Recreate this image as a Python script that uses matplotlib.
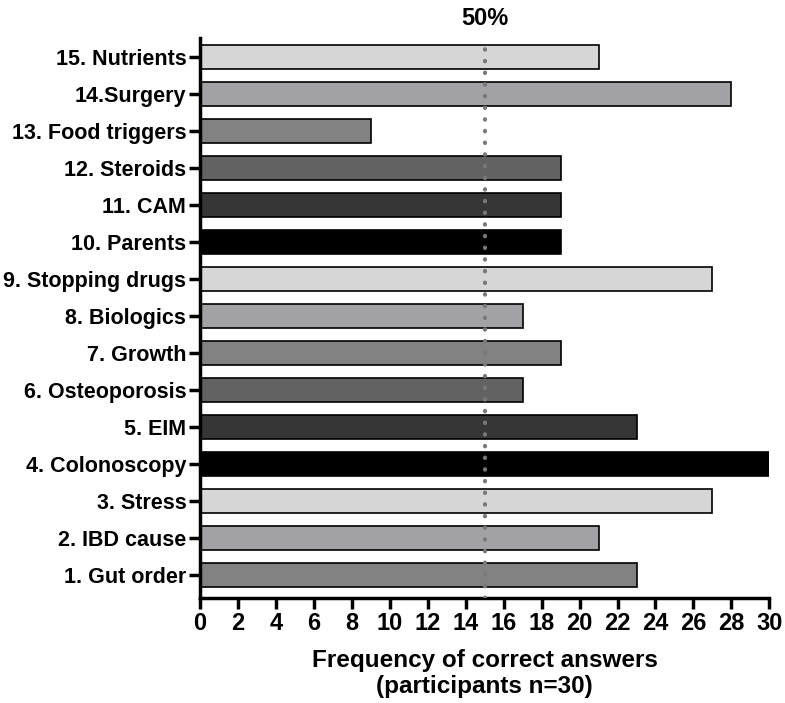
import matplotlib
matplotlib.use("Agg")
import matplotlib.pyplot as plt

# Daten
labels = ["1. Gut order", "2. IBD cause", "3. Stress", "4. Colonoscopy", "5. EIM",
          "6. Osteoporosis", "7. Growth", "8. Biologics", "9. Stopping drugs",
          "10. Parents", "11. CAM", "12. Steroids", "13. Food triggers",
          "14.Surgery", "15. Nutrients"]
values = [23, 21, 27, 30, 23, 17, 19, 17, 27, 19, 19, 19, 9, 28, 21]
colors = ["#828282", "#a2a2a6", "#d6d6d6", "#000000", "#363636", "#626262",
          "#828282", "#a2a2a6", "#d6d6d6", "#000000", "#363636", "#626262",
          "#828282", "#a2a2a6", "#d6d6d6"]
xticks = list(range(0, 31, 2))

plt.rcParams['font.family'] = ['Liberation Sans', 'DejaVu Sans']
plt.rcParams['font.weight'] = 'bold'

fig = plt.figure(figsize=(7.85, 7.03), dpi=100)
ax = fig.add_axes([0.255, 0.149, 0.725, 0.797])

pos = list(range(1, len(labels) + 1))
ax.barh(pos, values, height=0.65, color=colors, edgecolor="black", linewidth=1.2, zorder=2)

# 50%-Linie
ax.axvline(15, color="#787878", linestyle=(0, (0.1, 2.7)), linewidth=3.0,
           dash_capstyle="round", zorder=3)
ax.text(15, 1.015, "50%", transform=ax.get_xaxis_transform(), ha="center", va="bottom",
        fontsize=17, fontweight="bold")

ax.set_xlim(0, 30)
ax.set_ylim(0.38, 15.51)
ax.set_yticks(pos)
ax.set_yticklabels(labels, fontsize=15.5, fontweight="bold")
ax.set_xticks(xticks)
ax.set_xticklabels([str(t) for t in xticks], fontsize=17, fontweight="bold",
                   family=['Liberation Sans Narrow', 'Liberation Sans'])
ax.set_xlabel("Frequency of correct answers\n(participants n=30)", fontsize=17.5,
              fontweight="bold", labelpad=10, linespacing=1.15)

for s in ["top", "right"]:
    ax.spines[s].set_visible(False)
for s in ["left", "bottom"]:
    ax.spines[s].set_linewidth(2.5)
ax.tick_params(axis="both", width=2.5, length=8, direction="out", pad=2)

fig.savefig("out.png", dpi=100)
